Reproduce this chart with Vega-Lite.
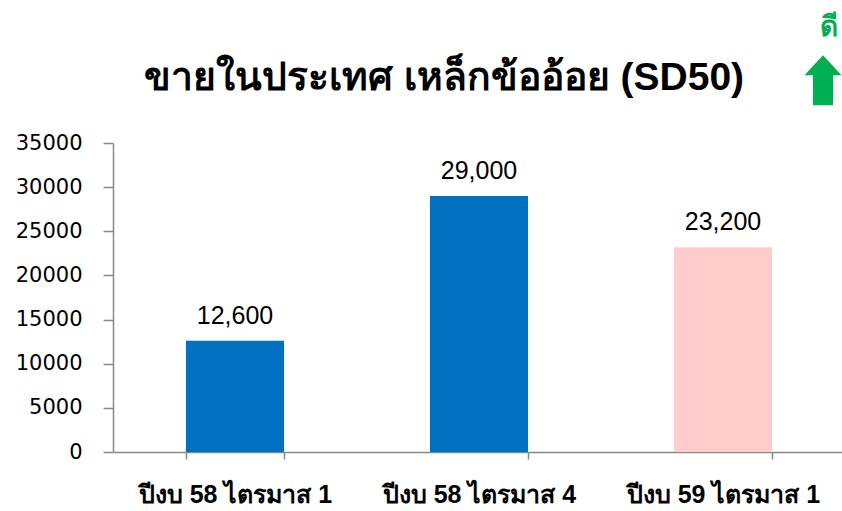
{
  "$schema": "https://vega.github.io/schema/vega-lite/v6.json",
  "width": 732,
  "height": 309,
  "autosize": {"type": "none"},
  "padding": {"left": 113, "top": 143, "right": 0, "bottom": 59},
  "background": "white",
  "datasets": {
    "bars": [
      {"period": "ปีงบ 58 ไตรมาส 1", "value": 12600, "label": "12,600", "kind": "actual"},
      {"period": "ปีงบ 58 ไตรมาส 4", "value": 29000, "label": "29,000", "kind": "actual"},
      {"period": "ปีงบ 59 ไตรมาส 1", "value": 23200, "label": "23,200", "kind": "target"}
    ],
    "note": [
      {"period": "ปีงบ 59 ไตรมาส 1", "arrowY": 42100, "textY": 48000, "text": "ดี"}
    ],
    "heading": [
      {"period": "ปีงบ 58 ไตรมาส 4", "y": 42400, "text": "ขายในประเทศ เหล็กข้ออ้อย (SD50)"}
    ]
  },
  "config": {
    "view": {"stroke": null},
    "font": "Liberation Sans"
  },
  "layer": [
    {
      "data": {"name": "bars"},
      "mark": {"type": "bar"},
      "encoding": {
        "x": {
          "field": "period",
          "type": "nominal",
          "sort": null,
          "scale": {"paddingInner": 0.598, "paddingOuter": 0.299},
          "axis": {
            "title": null,
            "labelAngle": 0,
            "labelFontSize": 25,
            "labelFontWeight": "bold",
            "labelColor": "#000000",
            "labelPadding": 23,
            "labelLimit": 0,
            "tickBand": "extent",
            "tickSize": 7,
            "tickColor": "#888888",
            "domainColor": "#888888",
            "domainWidth": 1.5,
            "tickWidth": 1.5
          }
        },
        "y": {
          "field": "value",
          "type": "quantitative",
          "scale": {"domain": [0, 35000], "nice": false},
          "axis": {
            "title": null,
            "values": [0, 5000, 10000, 15000, 20000, 25000, 30000, 35000],
            "format": "d",
            "grid": false,
            "labelFont": "DejaVu Sans",
            "labelFontSize": 21,
            "labelColor": "#000000",
            "labelPadding": 21,
            "tickSize": 10,
            "tickColor": "#888888",
            "domainColor": "#888888",
            "domainWidth": 1.5,
            "tickWidth": 1.5
          }
        },
        "color": {
          "field": "kind",
          "type": "nominal",
          "scale": {"domain": ["actual", "target"], "range": ["#0070C0", "#FFCCCC"]},
          "legend": null
        }
      }
    },
    {
      "data": {"name": "bars"},
      "mark": {"type": "text", "fontSize": 25, "color": "#000000", "baseline": "alphabetic", "dy": -17},
      "encoding": {
        "x": {"field": "period", "type": "nominal", "sort": null},
        "y": {"field": "value", "type": "quantitative"},
        "text": {"field": "label"}
      }
    },
    {
      "data": {"name": "heading"},
      "mark": {"type": "text", "fontSize": 39, "fontWeight": "bold", "color": "#000000", "baseline": "middle", "dx": -35},
      "encoding": {
        "x": {"field": "period", "type": "nominal", "sort": null},
        "y": {"field": "y", "type": "quantitative"},
        "text": {"field": "text"}
      }
    },
    {
      "data": {"name": "note"},
      "mark": {
        "type": "point",
        "filled": true,
        "color": "#00B050",
        "opacity": 1,
        "size": 2500,
        "xOffset": 100,
        "shape": "M0,-1 L0.74,-0.2 L0.4,-0.2 L0.4,1 L-0.4,1 L-0.4,-0.2 L-0.74,-0.2 Z"
      },
      "encoding": {
        "x": {"field": "period", "type": "nominal", "sort": null},
        "y": {"field": "arrowY", "type": "quantitative"}
      }
    },
    {
      "data": {"name": "note"},
      "mark": {"type": "text", "fontSize": 28, "fontWeight": "bold", "color": "#00B050", "baseline": "middle", "dx": 106},
      "encoding": {
        "x": {"field": "period", "type": "nominal", "sort": null},
        "y": {"field": "textY", "type": "quantitative"},
        "text": {"field": "text"}
      }
    }
  ]
}
